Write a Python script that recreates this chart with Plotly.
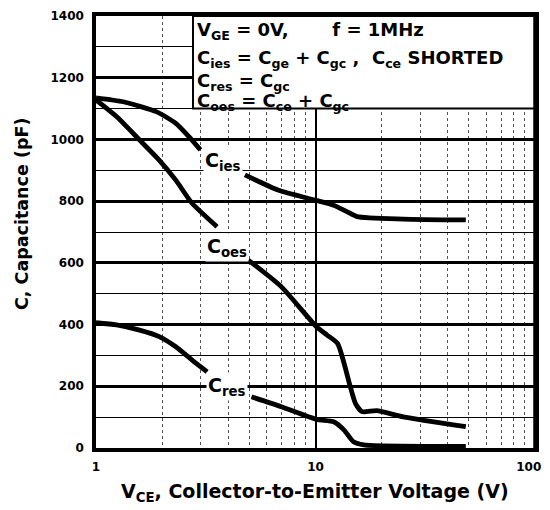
import plotly.graph_objects as go

# ---- data ----
cies_x1 = [1.0, 1.33, 1.88, 2.31, 2.65, 2.99]
cies_y1 = [1135, 1122, 1090, 1052, 1009, 966]
cies_x2 = [4.77, 6.74, 9.87, 12.1, 13.9, 15.45, 25.1, 48.4]
cies_y2 = [885, 836, 804, 787, 766, 750, 742, 739]

coes_x1 = [1.0, 1.24, 1.58, 1.94, 2.31, 2.74, 3.56]
coes_y1 = [1128, 1074, 998, 933, 868, 793, 717]
coes_x2 = [4.94, 6.98, 10.1, 11.3, 12.6, 13.5, 14.4, 15.2, 16.3, 19.0, 25.1, 48.4]
coes_y2 = [609, 523, 393, 366, 339, 274, 199, 145, 118, 121, 101, 69]

cres_x1 = [1.0, 1.24, 1.58, 1.94, 2.31, 2.74, 3.21]
cres_y1 = [406, 399, 382, 361, 328, 285, 247]
cres_x2 = [5.11, 6.98, 10.1, 12.1, 13.5, 14.9, 16.6, 48.4]
cres_y2 = [166, 134, 93, 85, 58, 20, 10, 5]

x_tickvals = [1, 10, 100]
x_ticktext = ["1", "10", "100\u00a0\u00a0\u00a0"]
y_tickvals = [0, 200, 400, 600, 800, 1000, 1200, 1400]
y_ticktext = ["0", "200", "400", "600", "800", "1000", "1200", "1400"]

box_lines = [
    "V<sub>GE</sub> = 0V,       f = 1MHz",
    "C<sub>ies</sub> = C<sub>ge</sub> + C<sub>gc</sub> ,  C<sub>ce</sub> SHORTED",
    "C<sub>res</sub> = C<sub>gc</sub>",
    "C<sub>oes</sub> = C<sub>ce</sub> + C<sub>gc</sub>",
]

TXT = "DejaVu Sans"
L, R, T, B = 96, 15, 16, 62
PW, PH = 550 - L - R, 510 - T - B


def px(xp):
    return (xp - L) / PW


def py(yp):
    return (510 - B - yp) / PH


fig = go.Figure()
line_style = dict(color="black", width=4.8)
for xs, ys in [(cies_x1, cies_y1), (cies_x2, cies_y2), (coes_x1, coes_y1),
               (coes_x2, coes_y2), (cres_x1, cres_y1), (cres_x2, cres_y2)]:
    fig.add_trace(go.Scatter(x=xs, y=ys, mode="lines", line=dict(line_style, shape="spline", smoothing=0.6),
                             showlegend=False, hoverinfo="skip"))

fig.update_layout(
    width=550, height=510,
    margin=dict(l=L, r=R, t=T, b=B, autoexpand=False),
    paper_bgcolor="white", plot_bgcolor="white",
    showlegend=False,
)
fig.update_xaxes(
    type="log", range=[0, 2], automargin=False,
    tickvals=x_tickvals, ticktext=x_ticktext,
    showline=True, mirror=True, linecolor="black", linewidth=3.5,
    showgrid=True, gridcolor="black", gridwidth=2,
    ticks="", ticklabelstandoff=5, ticklabeloverflow="allow",
    tickfont=dict(family=TXT, size=12, color="black", weight="bold"),
    minor=dict(dtick="D1", showgrid=True, gridcolor="#555", gridwidth=1, griddash="dot", ticks=""),
    zeroline=False,
)
fig.update_yaxes(
    range=[0, 1400], automargin=False,
    tickvals=y_tickvals, ticktext=y_ticktext,
    showline=True, mirror=True, linecolor="black", linewidth=3.5,
    showgrid=True, gridcolor="black", gridwidth=2.5,
    ticks="", ticklabelstandoff=6,
    tickfont=dict(family=TXT, size=12, color="black", weight="bold"),
    minor=dict(dtick=100, showgrid=True, gridcolor="black", gridwidth=1.3, ticks=""),
    zeroline=False,
)

# axis titles as annotations (placed precisely)
fig.add_annotation(text="V<sub>CE</sub>, Collector-to-Emitter Voltage (V)",
                   xref="paper", yref="paper", x=px(315), y=py(492),
                   xanchor="center", yanchor="middle", showarrow=False,
                   font=dict(family=TXT, size=19, color="black", weight="bold"))
fig.add_annotation(text="C, Capacitance (pF)", textangle=-90,
                   xref="paper", yref="paper", x=px(22), y=py(214),
                   xanchor="center", yanchor="middle", showarrow=False,
                   font=dict(family=TXT, size=17.5, color="black", weight="bold"))

# condition box
fig.add_shape(type="rect", xref="paper", yref="y", x0=px(193), x1=1, y0=1100, y1=1400,
              fillcolor="white", line=dict(color="black", width=2), layer="above")
# right frame edge drawn explicitly on top
fig.add_shape(type="line", xref="paper", yref="paper", x0=1, x1=1, y0=0, y1=1,
              line=dict(color="black", width=3.5), layer="above")
box_py = [31, 59, 82, 102]
for txt, yy in zip(box_lines, box_py):
    fig.add_annotation(text=txt, xref="paper", yref="paper", x=px(195), y=py(yy),
                       xanchor="left", yanchor="middle", showarrow=False,
                       font=dict(family=TXT, size=18, color="black", weight="bold"))

# curve labels
for txt, lx, ly in [("C<sub>ies</sub>", 0.58, 927), ("C<sub>oes</sub>", 0.597, 651),
                    ("C<sub>res</sub>", 0.597, 198)]:
    fig.add_annotation(text=txt, x=lx, y=ly, xref="x", yref="y", showarrow=False,
                       bgcolor="white", borderpad=1,
                       font=dict(family=TXT, size=19, color="black", weight="bold"))

fig.write_html(
    "out.html",
    config={"displayModeBar": False},
    post_script=("document.body.style.margin='0px';"
                 "document.body.style.overflow='hidden';"
                 "document.documentElement.style.overflow='hidden';"),
)
